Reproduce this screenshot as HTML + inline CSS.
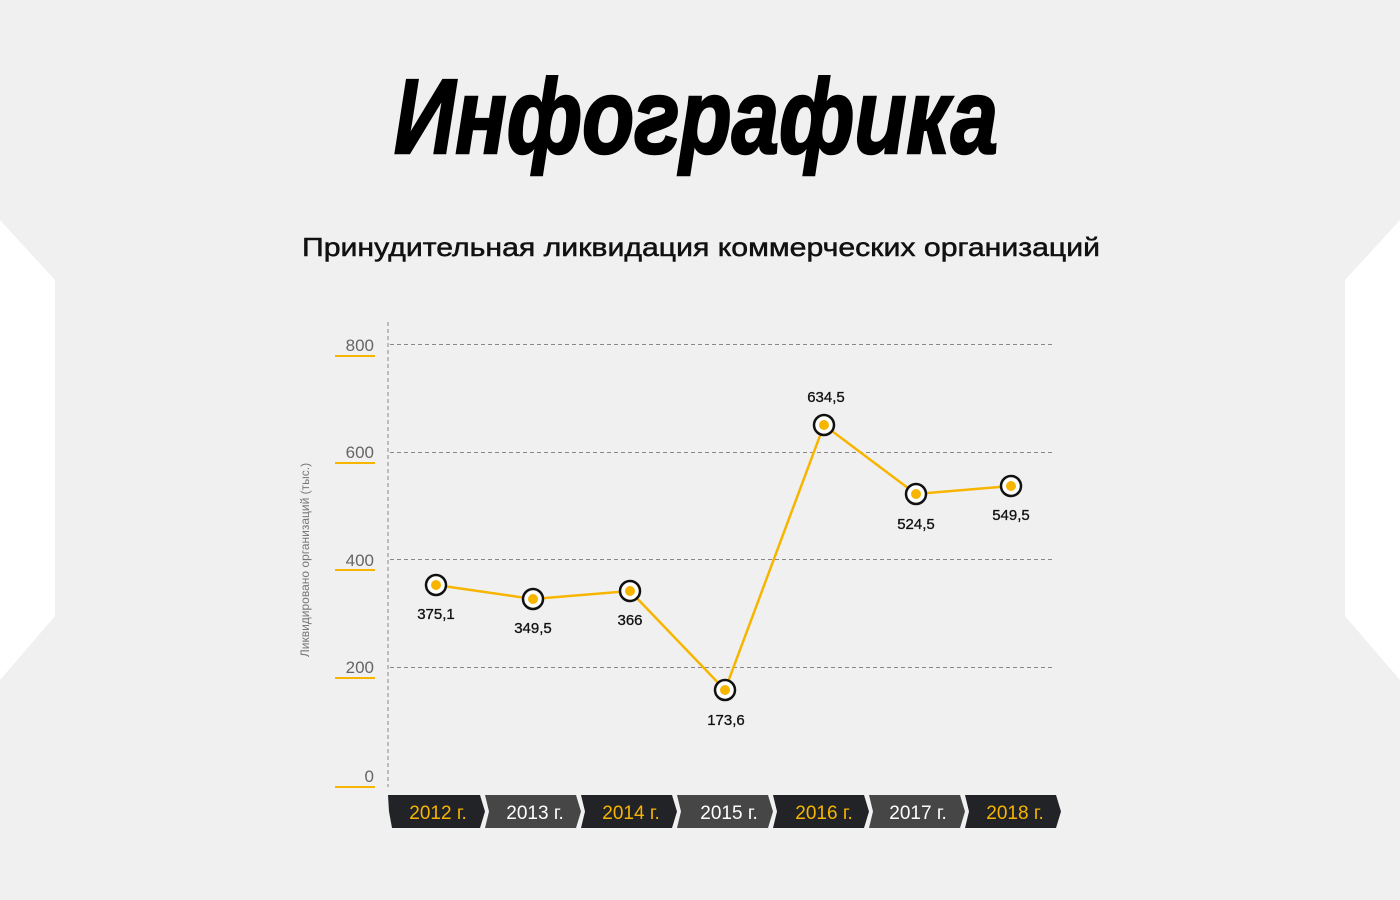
<!DOCTYPE html>
<html><head><meta charset="utf-8"><style>
html,body{margin:0;padding:0;background:#f0f0f0;}
svg{display:block;}
</style></head><body>
<svg width="1400" height="900" viewBox="0 0 1400 900" xmlns="http://www.w3.org/2000/svg" font-family="Liberation Sans, sans-serif">
<rect width="1400" height="900" fill="#f0f0f0"/>
<polygon points="0,220 55,280 55,616 0,680" fill="#fff"/>
<polygon points="1400,220 1345,280 1345,616 1400,680" fill="#fff"/>
<text x="696" y="153" text-anchor="middle" font-family="Liberation Sans Narrow, Liberation Sans, sans-serif" font-weight="bold" font-style="italic" font-size="106" textLength="604" lengthAdjust="spacingAndGlyphs" fill="#000" stroke="#000" stroke-width="2.5">Инфографика</text>
<text x="701" y="256" text-anchor="middle" font-size="26" fill="#111" stroke="#111" stroke-width="0.5" textLength="798" lengthAdjust="spacingAndGlyphs">Принудительная ликвидация коммерческих организаций</text>
<g stroke="#888" stroke-width="1" stroke-dasharray="4,3">
<line x1="388" y1="322" x2="388" y2="787"/>
<line x1="390" y1="344.5" x2="1053" y2="344.5"/>
<line x1="390" y1="452.5" x2="1053" y2="452.5"/>
<line x1="390" y1="559.5" x2="1053" y2="559.5"/>
<line x1="390" y1="667.5" x2="1053" y2="667.5"/>
</g>
<g font-size="17" fill="#666" text-anchor="end">
<text x="374" y="351">800</text><text x="374" y="458">600</text><text x="374" y="566">400</text><text x="374" y="673">200</text><text x="374" y="782">0</text>
</g>
<g fill="#f7b500">
<rect x="335" y="355" width="40" height="2"/><rect x="335" y="462" width="40" height="2"/><rect x="335" y="569" width="40" height="2"/><rect x="335" y="677" width="40" height="2"/><rect x="335" y="786" width="40" height="2"/>
</g>
<text transform="translate(309,560) rotate(-90)" text-anchor="middle" font-size="12" fill="#777">Ликвидировано организаций (тыс.)</text>
<polyline points="436,585 533,599 630,591 725,690 824,425 916,494 1011,486" fill="none" stroke="#f7b500" stroke-width="2.5"/>
<g fill="#fff" stroke="#111" stroke-width="2.5">
<circle cx="436" cy="585" r="10"/><circle cx="533" cy="599" r="10"/><circle cx="630" cy="591" r="10"/><circle cx="725" cy="690" r="10"/><circle cx="824" cy="425" r="10"/><circle cx="916" cy="494" r="10"/><circle cx="1011" cy="486" r="10"/>
</g>
<g fill="#f7b500">
<circle cx="436" cy="585" r="5"/><circle cx="533" cy="599" r="5"/><circle cx="630" cy="591" r="5"/><circle cx="725" cy="690" r="5"/><circle cx="824" cy="425" r="5"/><circle cx="916" cy="494" r="5"/><circle cx="1011" cy="486" r="5"/>
</g>
<g font-size="15" fill="#111" text-anchor="middle" stroke="#111" stroke-width="0.3">
<text x="436" y="619">375,1</text><text x="533" y="633">349,5</text><text x="630" y="625">366</text><text x="726" y="725">173,6</text><text x="826" y="402">634,5</text><text x="916" y="529">524,5</text><text x="1011" y="520">549,5</text>
</g>
<g>
<polygon points="388,795 480,795 485,811.5 480,828 392,828 389,811.5" fill="#222326"/>
<polygon points="485,795 576,795 581,811.5 576,828 485,828 489,811.5" fill="#464646"/>
<polygon points="581,795 672,795 677,811.5 672,828 581,828 585,811.5" fill="#222326"/>
<polygon points="677,795 768,795 773,811.5 768,828 677,828 681,811.5" fill="#464646"/>
<polygon points="773,795 864,795 869,811.5 864,828 773,828 777,811.5" fill="#222326"/>
<polygon points="869,795 960,795 965,811.5 960,828 869,828 873,811.5" fill="#464646"/>
<polygon points="965,795 1056,795 1061,811.5 1056,828 965,828 969,811.5" fill="#222326"/>
</g>
<g font-size="19" text-anchor="middle">
<text x="438" y="819" fill="#f7b500">2012 г.</text>
<text x="535" y="819" fill="#fff">2013 г.</text>
<text x="631" y="819" fill="#f7b500">2014 г.</text>
<text x="729" y="819" fill="#fff">2015 г.</text>
<text x="824" y="819" fill="#f7b500">2016 г.</text>
<text x="918" y="819" fill="#fff">2017 г.</text>
<text x="1015" y="819" fill="#f7b500">2018 г.</text>
</g>
</svg>
</body></html>
